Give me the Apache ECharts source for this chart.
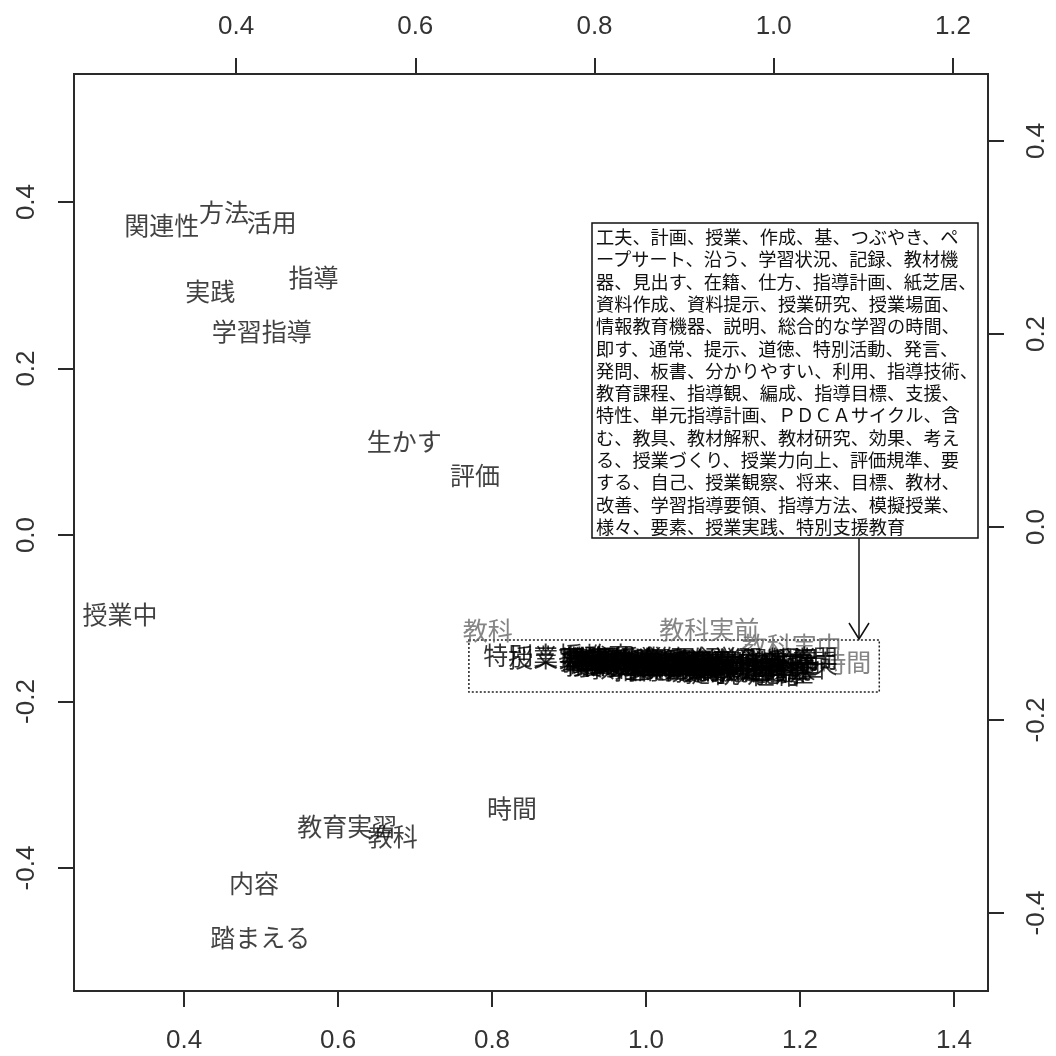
<!DOCTYPE html>
<html><head><meta charset="utf-8">
<script src="https://cdn.jsdelivr.net/npm/echarts@6/dist/echarts.min.js"></script>
<style>html,body{margin:0;padding:0;background:#fff}#c{width:1056px;height:1056px}</style>
</head><body><div id="c"></div>
<script>
// ---- data ----
const bottomTicks = [0.4, 0.6, 0.8, 1.0, 1.2, 1.4];
const topTicks = [0.4, 0.6, 0.8, 1.0, 1.2];
const leftTicks = [-0.4, -0.2, 0.0, 0.2, 0.4];
const rightTicks = [-0.4, -0.2, 0.0, 0.2, 0.4];

// labelled points on bottom / left axes
const rowWords = ['関連性','方法','活用','指導','実践','学習指導','生かす','評価','授業中','時間','教育実習','教科','内容','踏まえる'];
const rowX = [0.371, 0.452, 0.514, 0.568, 0.434, 0.501, 0.686, 0.778, 0.317, 0.826, 0.612, 0.671, 0.491, 0.499];
const rowY = [0.372, 0.387, 0.375, 0.309, 0.293, 0.244, 0.112, 0.072, -0.095, -0.329, -0.350, -0.362, -0.419, -0.483];

// labelled points on top / right axes (grey)
const colWords = ['教科','教科実前','教科実中','時間'];
const colX = [0.681, 0.928, 1.020, 1.081];
const colY = [-0.107, -0.106, -0.123, -0.140];

// crowded points (bottom / left axes)
const clusterWords = ['工夫','計画','授業','作成','基','つぶやき','ペープサート','沿う','学習状況','記録','教材機器','見出す','在籍','仕方','指導計画','紙芝居','資料作成','資料提示','授業研究','授業場面','情報教育機器','説明','総合的な学習の時間','即す','通常','提示','道徳','特別活動','発言','発問','板書','分かりやすい','利用','指導技術','教育課程','指導観','編成','指導目標','支援','特性','単元指導計画','ＰＤＣＡサイクル','含む','教具','教材解釈','教材研究','効果','考える','授業づくり','授業力向上','評価規準','要する','自己','授業観察','将来','目標','教材','改善','学習指導要領','指導方法','模擬授業','様々','要素','授業実践','特別支援教育'];
const clusterX = [1.217,1.200,1.190,1.183,1.204,1.164,1.132,1.181,1.158,1.174,1.148,1.161,1.168,1.155,1.129,1.138,1.119,1.116,1.106,1.103,1.086,1.122,1.103,1.094,1.090,1.083,1.078,1.070,1.068,1.064,1.057,1.055,1.049,1.042,1.038,1.031,1.029,1.023,1.018,1.014,1.012,1.044,1.005,1.000,0.995,0.992,0.987,0.982,0.992,0.977,0.966,0.961,0.956,0.953,0.948,0.940,0.935,0.930,0.999,0.956,0.958,0.927,0.922,0.886,0.886];
const clusterY = [-0.154,-0.159,-0.150,-0.162,-0.165,-0.155,-0.154,-0.157,-0.149,-0.165,-0.160,-0.151,-0.167,-0.162,-0.157,-0.163,-0.151,-0.160,-0.155,-0.163,-0.154,-0.166,-0.148,-0.161,-0.156,-0.165,-0.151,-0.159,-0.155,-0.163,-0.153,-0.160,-0.156,-0.162,-0.153,-0.157,-0.155,-0.161,-0.151,-0.157,-0.154,-0.159,-0.161,-0.155,-0.151,-0.159,-0.154,-0.157,-0.150,-0.155,-0.153,-0.157,-0.154,-0.150,-0.156,-0.151,-0.155,-0.150,-0.148,-0.151,-0.148,-0.154,-0.148,-0.147,-0.145];

// annotation
const calloutLines = [
 '工夫、計画、授業、作成、基、つぶやき、ペ',
 'ープサート、沿う、学習状況、記録、教材機',
 '器、見出す、在籍、仕方、指導計画、紙芝居、',
 '資料作成、資料提示、授業研究、授業場面、',
 '情報教育機器、説明、総合的な学習の時間、',
 '即す、通常、提示、道徳、特別活動、発言、',
 '発問、板書、分かりやすい、利用、指導技術、',
 '教育課程、指導観、編成、指導目標、支援、',
 '特性、単元指導計画、ＰＤＣＡサイクル、含',
 'む、教具、教材解釈、教材研究、効果、考え',
 'る、授業づくり、授業力向上、評価規準、要',
 'する、自己、授業観察、将来、目標、教材、',
 '改善、学習指導要領、指導方法、模擬授業、',
 '様々、要素、授業実践、特別支援教育'
];
const boxX = [0.770, 1.303];
const boxY = [-0.126, -0.1886];

// ---- chart ----
const lineCol = '#2a2a2a';
const tickFont = {fontFamily: '"Liberation Sans", Arial, sans-serif', fontSize: 26, color: '#333'};
const fmt = v => (Math.abs(v) < 1e-9 ? 0 : v).toFixed(1);
function axisCommon(ticks, extra) {
  return Object.assign({
    type: 'value', splitLine: {show: false},
    axisLine: {show: true, onZero: false, lineStyle: {color: lineCol, width: 2}},
    axisTick: {show: true, inside: false, length: 16, customValues: ticks, lineStyle: {color: lineCol, width: 2}},
    axisLabel: Object.assign({show: true, customValues: ticks, formatter: fmt}, tickFont),
    minorTick: {show: false}
  }, extra);
}
const cjk = '"Noto Sans CJK JP", sans-serif';
function textSeries(words, xs, ys, xi, yi, color, z) {
  return {
    type: 'scatter', xAxisIndex: xi, yAxisIndex: yi, symbolSize: 1, z: z,
    itemStyle: {color: 'rgba(0,0,0,0)'}, silent: true,
    label: {show: true, position: 'inside', formatter: p => p.name, color: color, fontFamily: cjk, fontSize: 25},
    labelLayout: {hideOverlap: false},
    data: words.map((w, i) => ({name: w, value: [xs[i], ys[i]]}))
  };
}
const chart = echarts.init(document.getElementById('c'), null, {renderer: 'canvas'});
const clusterSeries = textSeries(clusterWords, clusterX, clusterY, 0, 0, '#000', 4);
clusterSeries.markArea = {
  silent: true,
  itemStyle: {color: 'rgba(0,0,0,0)', borderColor: '#222', borderWidth: 1.5, borderType: [2, 2]},
  label: {show: false},
  data: [[{coord: [boxX[0], boxY[0]]}, {coord: [boxX[1], boxY[1]]}]]
};
chart.setOption({
  animation: false,
  backgroundColor: '#fff',
  grid: {left: 74, right: 68, top: 74, bottom: 65, containLabel: false, outerBoundsMode: 'none',
         show: true, borderColor: lineCol, borderWidth: 2, backgroundColor: '#fff'},
  xAxis: [
    axisCommon(bottomTicks, {position: 'bottom', min: 0.2571, max: 1.4442,
      axisLabel: Object.assign({customValues: bottomTicks, formatter: fmt, margin: 37}, tickFont)}),
    axisCommon(topTicks, {position: 'top', min: 0.2192, max: 1.2391,
      axisLabel: Object.assign({customValues: topTicks, formatter: fmt, margin: 34}, tickFont)})
  ],
  yAxis: [
    axisCommon(leftTicks, {position: 'left', min: -0.5477, max: 0.5538,
      axisLabel: Object.assign({customValues: leftTicks, formatter: fmt, margin: 34, rotate: 90}, tickFont)}),
    axisCommon(rightTicks, {position: 'right', min: -0.4808, max: 0.4694,
      axisLabel: Object.assign({customValues: rightTicks, formatter: fmt, margin: 36, rotate: 90}, tickFont)})
  ],
  series: [
    textSeries(colWords, colX, colY, 1, 1, '#666', 3),
    textSeries(rowWords, rowX, rowY, 0, 0, '#111', 4),
    clusterSeries
  ],
  graphic: [
    {type: 'rect', shape: {x: 592, y: 223, width: 386, height: 315}, style: {fill: '#fff', stroke: '#111', lineWidth: 1.5}, z: 10},
    {type: 'text', x: 596, y: 226, z: 11, style: {text: calloutLines.join('\n'), font: '18.2px "Noto Sans CJK JP"', lineHeight: 22.3, fill: '#111'}},
    {type: 'line', shape: {x1: 859, y1: 538, x2: 859, y2: 639}, style: {stroke: '#111', lineWidth: 1.5}, z: 10},
    {type: 'polyline', shape: {points: [[849, 623], [859, 639], [869, 623]]}, style: {stroke: '#111', lineWidth: 1.5, fill: null}, z: 10}
  ]
});
</script></body></html>
